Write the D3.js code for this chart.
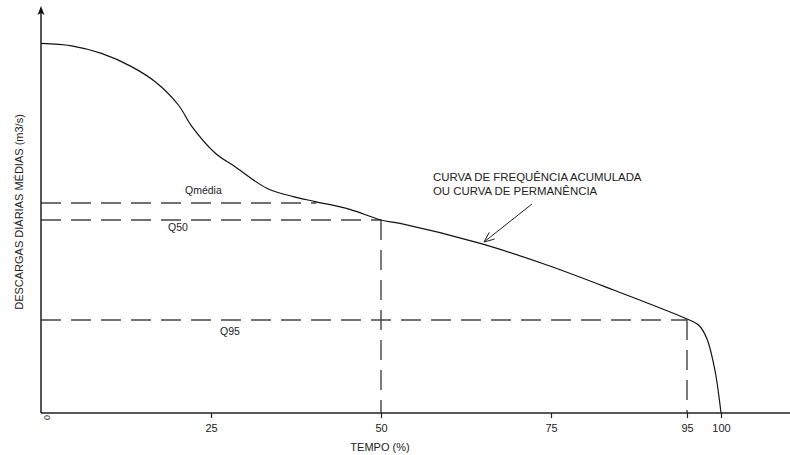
<!DOCTYPE html>
<html>
<head>
<meta charset="utf-8">
<script src="https://cdn.jsdelivr.net/npm/d3@7"></script>
<style>
  body { margin: 0; background: #fff; }
  svg { display: block; font-family: "Liberation Sans", Arial, sans-serif; }
</style>
</head>
<body>
<div id="chart"></div>
<script>
// Set up dimensions
const width = 790;
const height = 455;

// Duration curve (tempo % vs descarga)
const tempo = [0, 4.5, 8.9, 13.3, 16.8, 20.2, 22.2, 25.6, 28.5, 33.2, 37.1, 40.5, 45.4, 50, 52.8, 64.6, 74.4, 84.2, 95, 96.7, 97.9, 99.1, 100];
const descarga = [92.4, 91.8, 89.9, 86.6, 82.8, 77, 71.6, 65, 61.6, 56.2, 54.1, 52.8, 50.9, 48.25, 47.4, 42.4, 37, 30.75, 23.5, 22, 18.7, 10.75, 0];

// Reference levels
const qMedia = 52.5;
const q50 = 48.25;
const q95 = 23.25;

// Tick labels on the time axis
const tickValues = [25, 50, 75, 95, 100];

const svg = d3.select('#chart')
    .append('svg')
    .attr('width', width)
    .attr('height', height);

const x = d3.scaleLinear().domain([0, 100]).range([41, 721]);
const y = d3.scaleLinear().domain([0, 100]).range([413, 13]);

// Dashed reference lines
const dash = { stroke: '#444', width: 1.4, pattern: '20,10' };
const refLines = [
    [x(0), y(qMedia), x(40.5), y(qMedia)],
    [x(0), y(q50), x(50), y(q50)],
    [x(50), y(q50), x(50), y(0)],
    [x(0), y(q95), x(95), y(q95)],
    [x(95), y(q95), x(95), y(0)]
];
svg.append('g')
    .selectAll('line')
    .data(refLines)
    .enter()
    .append('line')
    .attr('x1', d => d[0]).attr('y1', d => d[1])
    .attr('x2', d => d[2]).attr('y2', d => d[3])
    .attr('stroke', dash.stroke)
    .attr('stroke-width', dash.width)
    .attr('stroke-dasharray', dash.pattern);

// Curve
const line = d3.line()
    .x((d, i) => x(tempo[i]))
    .y(d => y(d))
    .curve(d3.curveCatmullRom.alpha(0.5));

svg.append('path')
    .datum(descarga)
    .attr('d', line)
    .attr('fill', 'none')
    .attr('stroke', '#111')
    .attr('stroke-width', 1.2);

// X axis: long baseline plus ticks
svg.append('line')
    .attr('x1', x(0)).attr('x2', width)
    .attr('y1', y(0)).attr('y2', y(0))
    .attr('stroke', '#222')
    .attr('stroke-width', 1.4);

const xAxis = svg.append('g')
    .attr('transform', `translate(0,${y(0)})`)
    .call(d3.axisBottom(x).tickValues(tickValues).tickSize(5).tickPadding(6));
xAxis.select('.domain').remove();
xAxis.selectAll('.tick line').attr('stroke', '#222').attr('stroke-width', 1.2);
xAxis.selectAll('.tick text')
    .attr('fill', '#222')
    .style('font-size', '11px')
    .style('font-family', '"Liberation Sans", Arial, sans-serif');

// Rotated zero at origin
svg.append('text')
    .attr('transform', `translate(${x(0) + 3},${y(0) + 2}) rotate(90)`)
    .attr('font-size', 9)
    .attr('fill', '#333')
    .text('0');

// Y axis with arrow
svg.append('line')
    .attr('x1', x(0)).attr('x2', x(0))
    .attr('y1', y(0)).attr('y2', 12)
    .attr('stroke', '#111')
    .attr('stroke-width', 1.4);
svg.append('path')
    .attr('d', `M${x(0)},6 L${x(0) + 3.5},15 L${x(0)},13 L${x(0) - 3.5},15 Z`)
    .attr('fill', '#111');

// Axis titles
svg.append('text')
    .attr('x', 380).attr('y', 451)
    .attr('text-anchor', 'middle')
    .attr('font-size', 11)
    .attr('fill', '#222')
    .text('TEMPO (%)');

svg.append('text')
    .attr('transform', 'translate(23,212) rotate(-90)')
    .attr('text-anchor', 'middle')
    .attr('font-size', 11)
    .attr('fill', '#222')
    .text('DESCARGAS DIÁRIAS MÉDIAS (m3/s)');

// Level labels
const levelLabels = [
    { text: 'Qmédia', px: 185, py: 194 },
    { text: 'Q50', px: 168, py: 231 },
    { text: 'Q95', px: 220, py: 335 }
];
svg.append('g')
    .selectAll('text')
    .data(levelLabels)
    .enter()
    .append('text')
    .attr('x', d => d.px).attr('y', d => d.py)
    .attr('font-size', 10.5)
    .attr('fill', '#222')
    .text(d => d.text);

// Annotation
svg.append('text')
    .attr('x', 433).attr('y', 181)
    .attr('font-size', 11.4)
    .attr('fill', '#222')
    .text('CURVA DE FREQUÊNCIA ACUMULADA');
svg.append('text')
    .attr('x', 433).attr('y', 195)
    .attr('font-size', 11.4)
    .attr('fill', '#222')
    .text('OU CURVA DE PERMANÊNCIA');

// Pointer arrow
const ax1 = 532, ay1 = 204, ax2 = 484, ay2 = 242;
svg.append('line')
    .attr('x1', ax1).attr('y1', ay1)
    .attr('x2', ax2).attr('y2', ay2)
    .attr('stroke', '#222').attr('stroke-width', 1);
const ang = Math.atan2(ay2 - ay1, ax2 - ax1);
const hl = 11, spread = 0.4;
svg.append('path')
    .attr('d', `M${ax2 - hl * Math.cos(ang - spread)},${ay2 - hl * Math.sin(ang - spread)} L${ax2},${ay2} L${ax2 - hl * Math.cos(ang + spread)},${ay2 - hl * Math.sin(ang + spread)}`)
    .attr('fill', 'none')
    .attr('stroke', '#222')
    .attr('stroke-width', 1);
</script>
</body>
</html>
